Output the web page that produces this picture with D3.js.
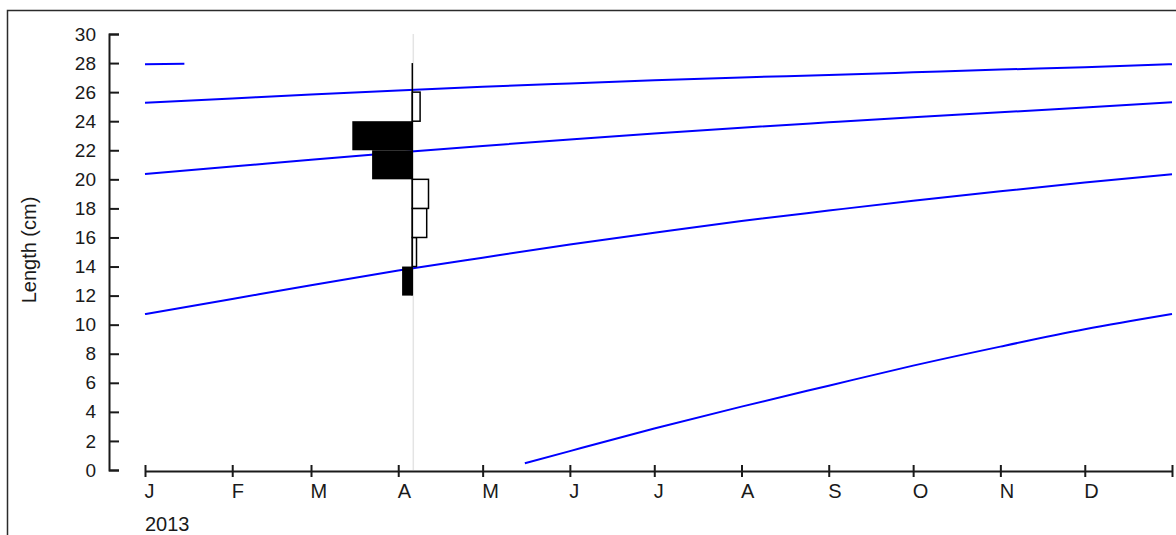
<!DOCTYPE html>
<html>
<head>
<meta charset="utf-8">
<script src="https://cdn.jsdelivr.net/npm/d3@7"></script>
<style>
  html, body { margin: 0; padding: 0; background: #ffffff; }
  svg { display: block; }
  text { font-family: "Liberation Sans", Arial, sans-serif; fill: #1a1a1a; }
</style>
</head>
<body>
<svg id="chart" width="1176" height="535"></svg>
<script>
// Monthly reference dates (first of each month, 2013 and the following January)
const monthDates = ["2013-01-01","2013-02-01","2013-03-01","2013-04-01","2013-05-01","2013-06-01",
                    "2013-07-01","2013-08-01","2013-09-01","2013-10-01","2013-11-01","2013-12-01","2014-01-01"];

// Growth curves of successive cohorts: lengths (cm) at the monthly dates
const cohortA = [25.27, 25.57, 25.84, 26.12, 26.37, 26.60, 26.82, 27.01, 27.18, 27.36, 27.55, 27.72, 27.92];
const cohortB = [20.37, 20.88, 21.35, 21.85, 22.30, 22.74, 23.15, 23.55, 23.92, 24.27, 24.61, 24.95, 25.30];
const cohortC = [10.73, 11.77, 12.71, 13.72, 14.61, 15.51, 16.32, 17.13, 17.85, 18.53, 19.18, 19.78, 20.35];
// Youngest cohort: recruited in mid-May
const recruitDates = ["2013-05-16","2013-06-01","2013-07-01","2013-08-01","2013-09-01",
                      "2013-10-01","2013-11-01","2013-12-01","2014-01-01"];
const cohortD = [0.46, 1.30, 2.85, 4.36, 5.80, 7.18, 8.49, 9.68, 10.73];
// Oldest cohort, only its start falls inside the year
const oldDates = ["2013-01-01","2013-01-15"];
const cohortOld = [27.92, 27.95];

// Length-frequency sample (restructured scores per 2 cm class)
const sampleDate = "2013-04-06";
const classLower = [12, 14, 16, 18, 20, 22, 24, 26];
const classWidth = 2;
const scores = [-0.17, 0.07, 0.24, 0.27, -0.67, -1.00, 0.13, 0.00];

// Axis ticks
const yTicks = d3.range(0, 31, 2);
const yearLabel = "2013";
const yTitle = "Length (cm)";

const parse = d3.utcParse("%Y-%m-%d");
const svg = d3.select("#chart");

// Outer frame
svg.append("rect")
  .attr("x", 7.5).attr("y", 10.5)
  .attr("width", 1400).attr("height", 800)
  .attr("fill", "none").attr("stroke", "#2b2b2b").attr("stroke-width", 1.5);

const x = d3.scaleUtc()
  .domain([parse("2013-01-01"), parse("2014-01-01")])
  .range([145, 1172]);
const y = d3.scaleLinear().domain([0, 30]).range([470, 34]);

// Sample date guide
const sx = x(parse(sampleDate));
svg.append("line")
  .attr("x1", sx + 1).attr("x2", sx + 1)
  .attr("y1", y(30)).attr("y2", y(0))
  .attr("stroke", "#e4e4e4").attr("stroke-width", 1.5);

// Y axis: ticks point inward, labels on the left
const yAxis = d3.axisLeft(y)
  .tickValues(yTicks)
  .tickSizeInner(-10).tickSizeOuter(-10)
  .tickPadding(13)
  .tickFormat(d3.format("d"));
const gy = svg.append("g").attr("transform", "translate(109,0)").call(yAxis);
gy.select(".domain").attr("stroke", "#1a1a1a").attr("stroke-width", 2);
gy.selectAll(".tick line").attr("stroke", "#1a1a1a").attr("stroke-width", 2);
gy.selectAll(".tick text").attr("font-size", 19).attr("fill", "#1a1a1a")
  .attr("font-family", "Liberation Sans, Arial, sans-serif");

// X axis: month initials, ticks crossing the axis line
const monthTicks = monthDates.map(parse);
const xAxis = d3.axisBottom(x)
  .tickValues(monthTicks)
  .tickSizeInner(6).tickSizeOuter(0)
  .tickPadding(7)
  .tickFormat((d, i) => i < 12 ? d3.utcFormat("%b")(d).charAt(0) : "");
const gx = svg.append("g").attr("transform", "translate(0,471)").call(xAxis);
gx.select(".domain").attr("stroke", "#1a1a1a").attr("stroke-width", 2);
gx.selectAll(".tick line").attr("y1", -6).attr("y2", 6)
  .attr("stroke", "#1a1a1a").attr("stroke-width", 2);
gx.selectAll(".tick text").attr("font-size", 20).attr("fill", "#1a1a1a")
  .attr("text-anchor", "start").attr("x", -1)
  .attr("font-family", "Liberation Sans, Arial, sans-serif");

svg.append("text").attr("x", 145).attr("y", 531)
  .attr("font-size", 20).text(yearLabel);

svg.append("text")
  .attr("transform", "translate(36,250) rotate(-90)")
  .attr("text-anchor", "middle")
  .attr("font-size", 20)
  .text(yTitle);

// Growth curves
const line = d3.line()
  .x(d => x(d[0])).y(d => y(d[1]))
  .curve(d3.curveMonotoneX);
const series = [
  [oldDates, cohortOld],
  [monthDates, cohortA],
  [monthDates, cohortB],
  [monthDates, cohortC],
  [recruitDates, cohortD]
];
svg.append("g").selectAll("path")
  .data(series.map(([ds, vs]) => ds.map((d, i) => [parse(d), vs[i]])))
  .join("path")
  .attr("d", line)
  .attr("fill", "none")
  .attr("stroke", "#0000ff")
  .attr("stroke-width", 2);

// Length-frequency histogram at the sample date
const f = d3.scaleLinear().domain([-1, 1]).range([sx - 60, sx + 60]);
const bars = classLower.map((lo, i) => ({ lo, s: scores[i] })).filter(d => d.s !== 0);
svg.append("g").selectAll("rect")
  .data(bars)
  .join("rect")
  .attr("x", d => f(Math.min(0, d.s)))
  .attr("width", d => Math.abs(f(d.s) - f(0)))
  .attr("y", d => y(d.lo + classWidth))
  .attr("height", d => y(d.lo) - y(d.lo + classWidth))
  .attr("fill", d => d.s < 0 ? "#000000" : "#ffffff")
  .attr("stroke", "#000000")
  .attr("stroke-width", d => d.s < 0 ? 0 : 1.5);

svg.append("line")
  .attr("x1", sx).attr("x2", sx)
  .attr("y1", y(d3.max(classLower) + classWidth)).attr("y2", y(d3.min(classLower)))
  .attr("stroke", "#000000").attr("stroke-width", 1.5);
</script>
</body>
</html>
